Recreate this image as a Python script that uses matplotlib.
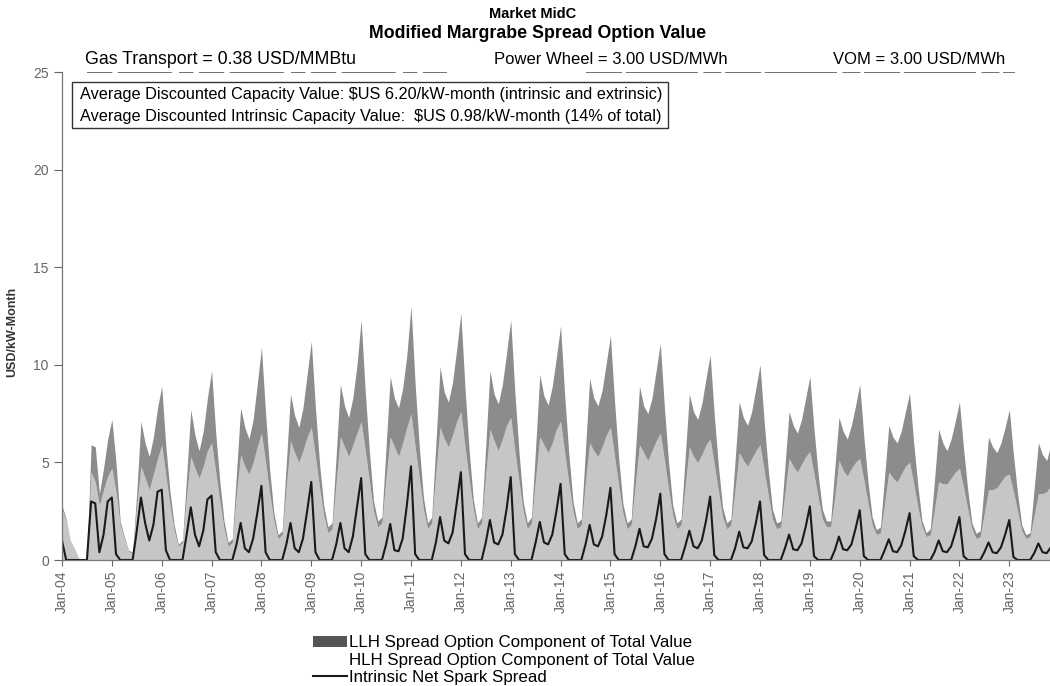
import matplotlib.pyplot as plt
import matplotlib.patches as mpatches
from matplotlib.lines import Line2D
import numpy as np

# monthly values, one row per year (Jan..Dec), 2004-2023, USD/kW-month
years = list(range(2004, 2024))

total_value = [
    [2.8, 2.1, 1.0, 0.6, 0.1, 0.0, 0.0, 5.9, 5.8, 3.4, 4.7, 6.2],
    [7.2, 5.0, 2.0, 1.2, 0.5, 0.4, 3.5, 7.1, 6.0, 5.3, 6.3, 7.8],
    [8.9, 5.8, 3.5, 1.8, 0.8, 1.0, 4.3, 7.7, 6.4, 5.6, 6.6, 8.3],
    [9.7, 6.5, 4.0, 2.0, 0.9, 1.1, 4.5, 7.8, 6.8, 6.2, 7.2, 9.0],
    [10.9, 7.5, 4.6, 2.4, 1.3, 1.5, 5.0, 8.5, 7.4, 6.8, 7.8, 9.5],
    [11.2, 7.8, 4.9, 2.8, 1.7, 1.9, 5.4, 9.0, 7.9, 7.3, 8.3, 10.0],
    [12.3, 8.6, 5.5, 3.0, 2.0, 2.2, 5.8, 9.4, 8.3, 7.8, 8.8, 10.5],
    [13.0, 9.0, 5.8, 3.2, 1.9, 2.2, 6.0, 9.9, 8.6, 8.1, 9.1, 10.8],
    [12.65, 8.8, 5.6, 3.1, 1.9, 2.2, 5.9, 9.7, 8.5, 8.0, 9.0, 10.6],
    [12.3, 8.6, 5.5, 3.0, 1.9, 2.2, 5.8, 9.5, 8.4, 7.95, 8.9, 10.4],
    [12.0, 8.4, 5.4, 3.0, 1.9, 2.1, 5.7, 9.3, 8.3, 7.9, 8.7, 10.1],
    [11.5, 8.1, 5.2, 2.9, 1.9, 2.1, 5.5, 8.9, 7.9, 7.5, 8.3, 9.7],
    [11.1, 7.8, 5.0, 2.8, 1.9, 2.1, 5.3, 8.5, 7.6, 7.2, 8.0, 9.3],
    [10.5, 7.4, 4.8, 2.7, 1.9, 2.1, 5.1, 8.1, 7.3, 6.9, 7.6, 8.8],
    [10.0, 7.1, 4.6, 2.6, 1.9, 2.0, 4.8, 7.6, 6.9, 6.5, 7.2, 8.3],
    [9.4, 6.7, 4.4, 2.6, 2.0, 2.0, 4.7, 7.3, 6.6, 6.2, 6.9, 7.9],
    [9.0, 6.3, 4.0, 2.2, 1.55, 1.7, 4.3, 6.9, 6.3, 6.0, 6.6, 7.6],
    [8.55, 6.0, 3.8, 2.0, 1.4, 1.6, 4.1, 6.7, 6.0, 5.6, 6.2, 7.1],
    [8.1, 5.7, 3.6, 1.9, 1.37, 1.5, 3.9, 6.3, 5.8, 5.5, 6.0, 6.8],
    [7.7, 5.4, 3.4, 1.8, 1.3, 1.4, 3.7, 6.0, 5.4, 5.1, 5.9, 6.6],
]

hlh_value = [
    [2.6, 2.0, 1.0, 0.6, 0.1, 0.0, 0.0, 4.5, 4.0, 2.8, 3.6, 4.3],
    [4.7, 3.5, 1.8, 1.1, 0.45, 0.35, 2.8, 4.8, 4.2, 3.6, 4.4, 5.2],
    [5.9, 4.3, 2.8, 1.5, 0.7, 0.9, 3.3, 5.3, 4.7, 4.2, 4.8, 5.6],
    [6.0, 4.5, 3.0, 1.6, 0.7, 0.9, 3.4, 5.4, 4.8, 4.4, 5.0, 5.8],
    [6.5, 5.0, 3.4, 2.0, 1.1, 1.3, 3.8, 6.1, 5.5, 5.0, 5.6, 6.3],
    [6.8, 5.3, 3.7, 2.3, 1.4, 1.6, 4.0, 6.3, 5.8, 5.3, 5.9, 6.5],
    [7.1, 5.6, 4.0, 2.5, 1.7, 1.9, 4.2, 6.3, 5.8, 5.3, 6.0, 6.8],
    [7.5, 5.8, 4.2, 2.6, 1.6, 1.9, 4.5, 6.8, 6.2, 5.8, 6.4, 7.1],
    [7.6, 5.8, 4.1, 2.6, 1.6, 1.9, 4.4, 6.7, 6.1, 5.6, 6.2, 6.9],
    [7.3, 5.6, 4.0, 2.5, 1.6, 1.9, 4.2, 6.3, 5.9, 5.5, 6.0, 6.7],
    [7.1, 5.5, 3.9, 2.5, 1.6, 1.8, 4.0, 6.0, 5.6, 5.3, 5.8, 6.4],
    [6.8, 5.3, 3.8, 2.4, 1.6, 1.8, 3.9, 5.9, 5.5, 5.1, 5.6, 6.1],
    [6.5, 5.1, 3.6, 2.3, 1.6, 1.8, 3.8, 5.8, 5.3, 5.0, 5.4, 5.9],
    [6.2, 4.9, 3.5, 2.2, 1.6, 1.8, 3.6, 5.5, 5.1, 4.8, 5.2, 5.6],
    [5.9, 4.6, 3.3, 2.1, 1.6, 1.7, 3.4, 5.2, 4.8, 4.5, 4.9, 5.3],
    [5.55, 4.4, 3.2, 2.1, 1.7, 1.7, 3.2, 5.1, 4.6, 4.3, 4.7, 5.0],
    [5.2, 4.1, 2.9, 1.8, 1.3, 1.4, 2.9, 4.5, 4.2, 4.0, 4.4, 4.8],
    [5.0, 3.9, 2.7, 1.7, 1.2, 1.3, 2.6, 4.0, 3.9, 3.9, 4.2, 4.5],
    [4.7, 3.7, 2.6, 1.6, 1.1, 1.2, 2.4, 3.6, 3.6, 3.7, 4.0, 4.3],
    [4.4, 3.5, 2.5, 1.5, 1.1, 1.2, 2.3, 3.4, 3.4, 3.5, 3.8, 4.1],
]

intrinsic = [
    [1.0, 0.0, 0.0, 0.0, 0.0, 0.0, 0.0, 3.0, 2.9, 0.4, 1.3, 3.0],
    [3.2, 0.3, 0.0, 0.0, 0.0, 0.0, 1.5, 3.2, 1.9, 1.0, 1.8, 3.5],
    [3.6, 0.5, 0.0, 0.0, 0.0, 0.0, 1.3, 2.7, 1.3, 0.7, 1.5, 3.1],
    [3.3, 0.4, 0.0, 0.0, 0.0, 0.0, 0.8, 1.9, 0.6, 0.4, 1.1, 2.4],
    [3.8, 0.4, 0.0, 0.0, 0.0, 0.0, 0.8, 1.9, 0.6, 0.4, 1.1, 2.5],
    [4.0, 0.4, 0.0, 0.0, 0.0, 0.0, 0.8, 1.9, 0.6, 0.4, 1.2, 2.7],
    [4.2, 0.3, 0.0, 0.0, 0.0, 0.0, 0.8, 1.85, 0.5, 0.45, 1.1, 2.8],
    [4.8, 0.3, 0.0, 0.0, 0.0, 0.0, 0.9, 2.2, 1.0, 0.85, 1.4, 2.9],
    [4.5, 0.3, 0.0, 0.0, 0.0, 0.0, 0.9, 2.05, 0.9, 0.8, 1.3, 2.6],
    [4.25, 0.3, 0.0, 0.0, 0.0, 0.0, 0.9, 1.95, 0.9, 0.8, 1.3, 2.5],
    [3.9, 0.3, 0.0, 0.0, 0.0, 0.0, 0.8, 1.8, 0.8, 0.7, 1.2, 2.3],
    [3.7, 0.3, 0.0, 0.0, 0.0, 0.0, 0.7, 1.6, 0.7, 0.65, 1.1, 2.1],
    [3.4, 0.3, 0.0, 0.0, 0.0, 0.0, 0.7, 1.5, 0.7, 0.6, 1.0, 2.0],
    [3.25, 0.25, 0.0, 0.0, 0.0, 0.0, 0.6, 1.45, 0.65, 0.6, 0.95, 1.9],
    [3.0, 0.25, 0.0, 0.0, 0.0, 0.0, 0.6, 1.3, 0.55, 0.5, 0.85, 1.7],
    [2.75, 0.2, 0.0, 0.0, 0.0, 0.0, 0.5, 1.2, 0.55, 0.5, 0.8, 1.6],
    [2.55, 0.2, 0.0, 0.0, 0.0, 0.0, 0.5, 1.06, 0.45, 0.4, 0.75, 1.5],
    [2.4, 0.2, 0.0, 0.0, 0.0, 0.0, 0.4, 1.0, 0.45, 0.4, 0.7, 1.4],
    [2.2, 0.2, 0.0, 0.0, 0.0, 0.0, 0.4, 0.9, 0.4, 0.35, 0.65, 1.3],
    [2.05, 0.15, 0.0, 0.0, 0.0, 0.0, 0.35, 0.85, 0.4, 0.35, 0.65, 1.2],
]

tick_labels = ["Jan-%02d" % (y % 100) for y in years]

total = np.ravel(total_value)
hlh = np.ravel(hlh_value)
intr = np.ravel(intrinsic)
months = np.arange(len(total))

plt.rcParams['font.family'] = ['Liberation Sans', 'DejaVu Sans']

fig = plt.figure(figsize=(10.5, 6.86), dpi=100)
ax = fig.add_axes([62 / 1050, 126 / 686, 988 / 1050, 488 / 686])

light = '#c6c6c6'
dark = '#8c8c8c'
ax.fill_between(months, 0, hlh, color=light, lw=0)
ax.fill_between(months, hlh, total, color=dark, lw=0)
ax.plot(months, intr, color='#1a1a1a', lw=1.5)

ax.set_xlim(0, 237.8)
ax.set_ylim(0, 25)
ax.set_yticks([0, 5, 10, 15, 20, 25])
ax.set_xticks(months[::12])
ax.set_xticklabels(tick_labels, rotation=90)
ax.tick_params(axis='y', colors='#666666', labelsize=10, length=6, width=0.8)
ax.tick_params(axis='x', colors='#666666', labelsize=10, length=4, width=0.8)
for s in ['top', 'right']:
    ax.spines[s].set_visible(False)
for s in ['left', 'bottom']:
    ax.spines[s].set_color('#777777')
    ax.spines[s].set_linewidth(0.9)
ax.set_ylabel('USD/kW-Month', fontsize=9, fontweight='bold', color='#333333')
ax.yaxis.set_label_coords(-0.0445, 0.467)

# scanned border remnant along the top
ax.axhline(25, xmin=0.025, xmax=0.39, color='#666666', lw=1.3, dashes=(14, 3, 30, 4, 8, 3))
ax.axhline(25, xmin=0.53, xmax=0.965, color='#666666', lw=1.3, dashes=(20, 2, 40, 3, 10, 2))

fig.text(0.507, 1 - 14 / 686, 'Market MidC', ha='center', va='center', fontsize=10.5, fontweight='bold')
fig.text(0.512, 1 - 34 / 686, 'Modified Margrabe Spread Option Value', ha='center', va='center',
         fontsize=12.8, fontweight='bold')

fig.text(85 / 1050, 1 - 60 / 686, 'Gas Transport = 0.38 USD/MMBtu', ha='left', va='center', fontsize=12.8)
fig.text(494 / 1050, 1 - 60 / 686, 'Power Wheel = 3.00 USD/MWh', ha='left', va='center', fontsize=12)
fig.text(833 / 1050, 1 - 60 / 686, 'VOM = 3.00 USD/MWh', ha='left', va='center', fontsize=12)

box = mpatches.Rectangle((72 / 1050, 1 - 128 / 686), 596 / 1050, 46 / 686, transform=fig.transFigure,
                         fill=False, edgecolor='#333333', lw=1.0)
fig.patches.append(box)
fig.text(80 / 1050, 1 - 95 / 686,
         r'Average Discounted Capacity Value: \$US 6.20/kW-month (intrinsic and extrinsic)',
         ha='left', va='center', fontsize=11.7)
fig.text(80 / 1050, 1 - 116 / 686,
         r'Average Discounted Intrinsic Capacity Value:  \$US 0.98/kW-month (14% of total)',
         ha='left', va='center', fontsize=11.7)

handles = [mpatches.Patch(facecolor='#555555', edgecolor='none'),
           mpatches.Patch(facecolor='none', edgecolor='none'),
           Line2D([0], [0], color='#1a1a1a', lw=1.5)]
labels = ['LLH Spread Option Component of Total Value',
          'HLH Spread Option Component of Total Value',
          'Intrinsic Net Spark Spread']
fig.legend(handles, labels, loc='upper left', bbox_to_anchor=(305 / 1050, 1 - 627 / 686),
           frameon=False, fontsize=12.2, handlelength=2.0, handleheight=0.55, handletextpad=0.1,
           labelspacing=0.12, borderpad=0.0)

fig.savefig('out.png', dpi=100)
